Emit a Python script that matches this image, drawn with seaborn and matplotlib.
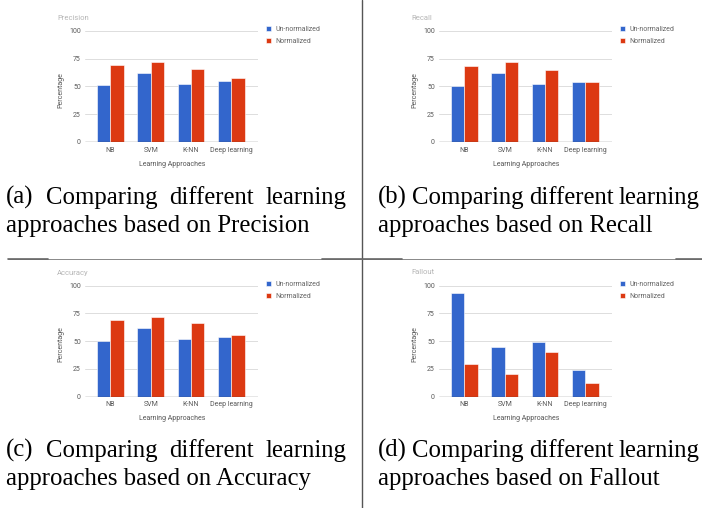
import seaborn as sns
import matplotlib.pyplot as plt
import pandas as pd

# -------- data --------
approaches = ['NB', 'SVM', 'K-NN', 'Deep learning']
series = ['Un-normalized', 'Normalized']

precision_unnorm = [51, 62, 52, 55]
precision_norm = [69, 72, 65.5, 58]
recall_unnorm = [50, 62, 52, 54]
recall_norm = [68.5, 72, 65, 54.5]
accuracy_unnorm = [50, 62, 52, 54]
accuracy_norm = [68.5, 72, 66, 55]
fallout_unnorm = [93, 45, 49, 24]
fallout_norm = [29, 20, 40, 12.5]

panel_titles = ['Precision', 'Recall', 'Accuracy', 'Fallout']
captions = [
    ('(a) Comparing different learning', 'approaches based on Precision'),
    ('(b) Comparing different learning', 'approaches based on Recall'),
    ('(c) Comparing different learning', 'approaches based on Accuracy'),
    ('(d) Comparing different learning', 'approaches based on Fallout'),
]
yticks = [0, 25, 50, 75, 100]

palette = ['#3366CC', '#DC3912']

W, H = 702, 508
sns.set_style('white')
plt.rcParams['font.family'] = ['Roboto', 'DejaVu Sans']

fig = plt.figure(figsize=(W / 100, H / 100), dpi=100)


def fx(x):
    return x / W


def fy(y):
    return 1 - y / H


def make_df(unnorm, norm):
    rows = []
    for a, u, n in zip(approaches, unnorm, norm):
        rows.append({'approach': a, 'series': series[0], 'value': u})
        rows.append({'approach': a, 'series': series[1], 'value': n})
    return pd.DataFrame(rows)


panels = [
    (precision_unnorm, precision_norm, 0, 0),
    (recall_unnorm, recall_norm, 354, 0),
    (accuracy_unnorm, accuracy_norm, 0, 254.5),
    (fallout_unnorm, fallout_norm, 354, 254.5),
]

for i, (u, n, dx, dy) in enumerate(panels):
    left, right = 85 + dx, 258 + dx
    top, bottom = 31 + dy, 142 + dy
    ax = fig.add_axes([fx(left), fy(bottom), fx(right - left), (bottom - top) / H])
    df = make_df(u, n)
    sns.barplot(data=df, x='approach', y='value', hue='series', palette=palette,
                saturation=1, width=0.66, ax=ax, edgecolor='white', linewidth=0.4)
    ax.set_ylim(0, 100)
    ax.set_xlim(-0.63, 3.66)
    for t in yticks[1:]:
        ax.axhline(t, color='#dddddd', lw=0.7, zorder=0)
    ax.axhline(0, color='#444444', lw=0.9, zorder=3)
    ax.set_yticks(yticks)
    ax.tick_params(axis='both', length=0, labelsize=5, colors='#5a5a5a')
    ax.tick_params(axis='y', pad=3)
    ax.tick_params(axis='x', pad=3.5)
    ax.set_xlabel('')
    ax.set_ylabel('')
    for s in ax.spines.values():
        s.set_visible(False)
    ax.grid(False)

    leg = ax.legend(loc='upper left', bbox_to_anchor=(fx(266 + dx), fy(26 + dy)),
                    bbox_transform=fig.transFigure, frameon=False, fontsize=5,
                    handlelength=0.75, handleheight=0.75, handletextpad=0.6,
                    labelspacing=0.75, borderaxespad=0, borderpad=0)
    for t in leg.get_texts():
        t.set_color('#666666')

    fig.text(fx(57 + dx), fy(18 + dy), panel_titles[i], fontsize=5.5,
             color='#b5b5b5', va='center', ha='left')
    fig.text(fx(61 + dx), fy(90 + dy), 'Percentage', fontsize=5, rotation=90,
             color='#555555', va='center', ha='center')
    fig.text(fx(172 + dx), fy(164 + dy), 'Learning Approaches', fontsize=5,
             color='#555555', va='center', ha='center')

# -------- captions (first line justified, second left aligned) --------
renderer = fig.canvas.get_renderer()
cap_font = dict(family='Liberation Serif', fontsize=17.8, color='black')
cap_pos = [(6, 347, 204), (378, 700, 204), (6, 347, 457), (378, 700, 457)]

for (l1, l2), (xl, xr, yb) in zip(captions, cap_pos):
    words = l1.split(' ')
    objs = [fig.text(0, fy(yb), w, va='baseline', ha='left', **cap_font) for w in words]
    widths = [o.get_window_extent(renderer).width for o in objs]
    gap = (xr - xl - sum(widths)) / (len(words) - 1)
    x = xl
    for o, w in zip(objs, widths):
        o.set_x(fx(x))
        x += w + gap
    fig.text(fx(xl), fy(yb + 28), l2, va='baseline', ha='left', **cap_font)

# -------- divider lines of the figure grid --------
fig.add_artist(plt.Line2D([fx(362), fx(362)], [0, 1], color='#555555', lw=1.0))
fig.add_artist(plt.Line2D([fx(8), fx(702)], [fy(259), fy(259)], color='#888888', lw=0.7))
for a, b in [(8, 48), (322, 402), (676, 702)]:
    fig.add_artist(plt.Line2D([fx(a), fx(b)], [fy(259.3), fy(259.3)],
                              color='#666666', lw=1.2))

fig.savefig('out.png', dpi=100)
